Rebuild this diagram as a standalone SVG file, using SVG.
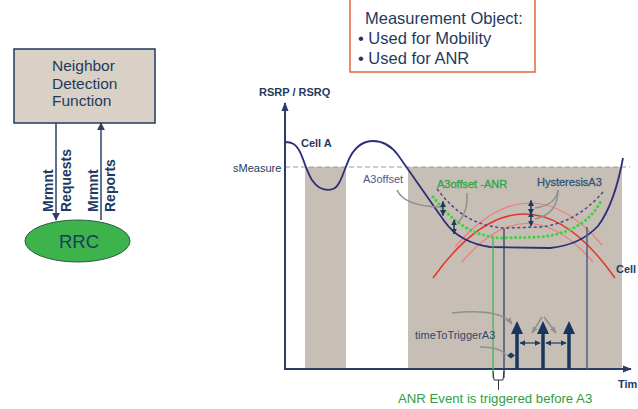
<svg xmlns="http://www.w3.org/2000/svg" width="638" height="409" viewBox="0 0 638 409">
<style>
text{font-family:"Liberation Sans",Arial,sans-serif}
.nv{fill:#1f3a60}
.lbl{font-size:11px}
.b{font-weight:bold}
.gray{stroke:#8f8f8f;stroke-width:1.5;fill:none}
.nvl{stroke:#1f3a5f;fill:none}
</style>
<defs>
<marker id="ah" viewBox="0 0 10 10" refX="9" refY="5" markerWidth="8" markerHeight="8" markerUnits="userSpaceOnUse" orient="auto-start-reverse"><path d="M0,0 L10,5 L0,10 z" fill="#2b4466"/></marker>
<marker id="ahs" viewBox="0 0 10 10" refX="9" refY="5" markerWidth="6" markerHeight="6" markerUnits="userSpaceOnUse" orient="auto-start-reverse"><path d="M0,0 L10,5 L0,10 z" fill="#1f3a5f"/></marker>
<marker id="ahg" viewBox="0 0 10 10" refX="9" refY="5" markerWidth="7" markerHeight="7" markerUnits="userSpaceOnUse" orient="auto"><path d="M0,1 L10,5 L0,9 z" fill="#8f8f8f"/></marker>
<marker id="ahax" viewBox="0 0 10 10" refX="9" refY="5" markerWidth="9" markerHeight="9" markerUnits="userSpaceOnUse" orient="auto"><path d="M0,1 L10,5 L0,9 z" fill="#2b3d63"/></marker>
<g id="dbl"><line x1="0" y1="-7" x2="0" y2="7" stroke="#1f3a5f" stroke-width="1.5" marker-start="url(#ahs)" marker-end="url(#ahs)"/></g>
<g id="thick"><line x1="0" y1="0" x2="0" y2="-36" stroke="#17365d" stroke-width="3.5"/><path d="M-6,-35 L6,-35 L0,-48 z" fill="#17365d"/></g>
</defs>

<!-- Left: Neighbor Detection Function -->
<g id="ndf">
<rect x="14" y="49" width="141" height="74" fill="#d9d1c5" stroke="#1f3a60" stroke-width="1.5"/>
<text class="nv" font-size="15.5" x="52" y="71">Neighbor</text>
<text class="nv" font-size="15.5" x="52" y="88.5">Detection</text>
<text class="nv" font-size="15.5" x="52" y="106">Function</text>
</g>
<g id="rrc">
<ellipse cx="77.5" cy="241" rx="52.5" ry="21" fill="#3cb44b" stroke="#2d5a40" stroke-width="1"/>
<text class="nv" font-size="18.5" x="79" y="247.5" text-anchor="middle">RRC</text>
</g>
<g id="connectors">
<line x1="56" y1="123" x2="56" y2="220" stroke="#2b4466" stroke-width="1.5" marker-end="url(#ah)"/>
<line x1="101" y1="220" x2="101" y2="123" stroke="#2b4466" stroke-width="1.5" marker-end="url(#ah)"/>
<text class="nv b" font-size="14" transform="translate(53,212) rotate(-90)">Mrmnt</text>
<text class="nv b" font-size="14" transform="translate(71,212) rotate(-90)">Requests</text>
<text class="nv b" font-size="14" transform="translate(98,212) rotate(-90)">Mrmnt</text>
<text class="nv b" font-size="14" transform="translate(115,212) rotate(-90)">Reports</text>
</g>

<!-- Measurement Object box -->
<g id="mobj">
<rect x="350" y="-5" width="185" height="77" fill="#fff" stroke="#e8643f" stroke-width="1.5"/>
<text class="nv" font-size="16.5" x="365" y="24">Measurement Object:</text>
<text class="nv" font-size="16.5" x="358" y="44">• Used for Mobility</text>
<text class="nv" font-size="16.5" x="358" y="64">• Used for ANR</text>
</g>

<!-- Chart -->
<g id="chart">
<rect x="305" y="167" width="41" height="202" fill="#c7bfb5"/>
<rect x="408" y="167" width="214" height="202" fill="#c7bfb5"/>
<line x1="285" y1="167" x2="630" y2="167" stroke="#9a9a9a" stroke-width="1.2" stroke-dasharray="5,3"/>

<!-- axes -->
<line x1="285" y1="370" x2="285" y2="103" stroke="#2b3d63" stroke-width="2" marker-end="url(#ahax)"/>
<line x1="284" y1="369" x2="631" y2="369" stroke="#2b3d63" stroke-width="2" marker-end="url(#ahax)"/>
<text class="nv lbl b" x="259" y="96">RSRP / RSRQ</text>
<text class="nv lbl b" x="618" y="388">Tim</text>
<text class="nv lbl" x="233" y="172">sMeasure</text>

<!-- red curves -->
<path d="M455 247 Q530 160 602 245" fill="none" stroke="#f07a78" stroke-width="1.2"/>
<path d="M462 262 Q527 185 593 262" fill="none" stroke="#f07a78" stroke-width="1.2"/>
<path d="M433 278 Q525 150 615 278" fill="none" stroke="#e8332e" stroke-width="1.5"/>

<!-- thresholds -->
<path d="M437 189 C452 208 470 226 505 228 L540 227 C570 224 590 207 604 191" fill="none" stroke="#4b4a86" stroke-width="1.5" stroke-dasharray="3,2.5"/>
<path d="M433 197 C448 215 465 235 500 238 L540 237 C570 234 590 222 601 201" fill="none" stroke="#3fd23f" stroke-width="3" stroke-dasharray="0.1,4.5" stroke-linecap="round"/>

<!-- Cell A -->
<path d="M285 142 C292 142 296 144 300 152 C304 160 306 170 312 180 C318 189 326 191 333 189 C340 187 343 172 350 157 C356 146 364 141 373 141 C384 141 392 147 398 155 C410 172 428 198 445 222 C455 236 470 244 490 247 L550 248 C570 246 585 240 598 226 C610 210 618 185 623 158" fill="none" stroke="#2e2e7a" stroke-width="1.8"/>
<text class="nv lbl b" x="301" y="147">Cell A</text>
<text class="nv lbl b" x="616" y="273">Cell</text>

<!-- verticals -->
<line x1="493" y1="238" x2="493" y2="378" stroke="#3cb44b" stroke-width="1.2"/>
<line x1="504" y1="229" x2="504" y2="378" stroke="#1f3a6a" stroke-width="1.2"/>
<line x1="587" y1="227" x2="587" y2="369" stroke="#4f5f7a" stroke-width="1.5"/>
<path d="M493 371 L494 380 L503 380 L504 371 M498.5 380 L498.5 390" fill="none" stroke="#333" stroke-width="1"/>

<!-- labels and callouts -->
<text class="lbl" x="363" y="183" fill="#4a5a85">A3offset</text>
<path class="gray" d="M397 190 Q404 206 440 207"/>
<use href="#dbl" x="443" y="208.5"/>
<text class="lbl" x="437" y="188" fill="#2ea84a" stroke="#2ea84a" stroke-width="0.35">A3offset -ANR</text>
<path class="gray" d="M467 193 Q468 214 457 223"/>
<use href="#dbl" x="454" y="227" transform="translate(0,0)"/>
<text class="lbl" x="537" y="186" fill="#34527a" stroke="#34527a" stroke-width="0.3">HysteresisA3</text>
<path class="gray" d="M558 190 Q556 205 535 208"/>
<path class="gray" d="M558 190 Q558 214 535 219"/>
<use href="#dbl" x="531" y="207.5"/>
<use href="#dbl" x="531" y="219"/>

<text class="lbl" x="415" y="339" fill="#34466e">timeToTriggerA3</text>
<path class="gray" d="M480 347 Q500 347 506 355"/>
<path d="M507 355.5 L511 352.5 L515 355.5 L511 358.5 z" fill="#1f3a5f"/>
<path class="gray" d="M452 313 Q500 308 512 324" marker-end="url(#ahg)"/>
<path class="gray" d="M542 317 L532 333" marker-end="url(#ahg)"/>
<path class="gray" d="M544 317 L556 333" marker-end="url(#ahg)"/>

<use href="#thick" x="517" y="369"/>
<use href="#thick" x="543" y="369"/>
<use href="#thick" x="569" y="369"/>
<line x1="520" y1="343" x2="540" y2="343" stroke="#1f3a5f" stroke-width="1.2" marker-start="url(#ahs)" marker-end="url(#ahs)"/>
<line x1="546" y1="343" x2="566" y2="343" stroke="#1f3a5f" stroke-width="1.2" marker-start="url(#ahs)" marker-end="url(#ahs)"/>

<text x="398" y="403" font-size="13.2" fill="#2f9e44">ANR Event is triggered before A3</text>
</g>
</svg>
